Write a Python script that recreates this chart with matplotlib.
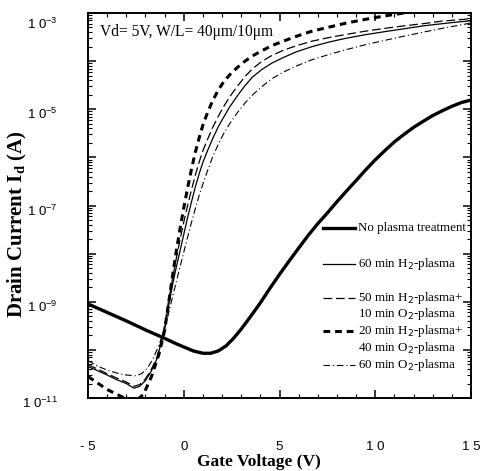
import matplotlib
matplotlib.use("Agg")
import matplotlib.pyplot as plt
from matplotlib.lines import Line2D
from matplotlib.ticker import FixedLocator, FixedFormatter, LogLocator, NullFormatter, MultipleLocator
import matplotlib.transforms as mtrans

# ---- data ----
v_none = [-5, -4, -3, -2, -1, -0.5, 0, 0.5, 1.0, 1.4, 1.8, 2.2, 2.6, 3.0, 3.5, 4.0, 4.5, 5.0, 5.5, 6.0, 6.5,
          7.0, 7.5, 8.0, 8.5, 9.0, 9.5, 10.0, 10.5, 11.0, 11.5, 12.0, 12.5, 13.0, 13.5, 14.0, 14.5, 15]
i_none = [9e-10, 6e-10, 4e-10, 2.6e-10, 1.74e-10, 1.4e-10, 1.15e-10, 9.5e-11, 8.5e-11, 8.5e-11, 9.5e-11,
          1.2e-10, 1.74e-10, 2.7e-10, 5e-10, 9.5e-10, 1.9e-9, 3.7e-9, 7e-9, 1.3e-8, 2.4e-8,
          4.2e-8, 7e-8, 1.2e-7, 2e-7, 3.3e-7, 5.5e-7, 8.9e-7, 1.38e-6, 2.1e-6, 3e-6, 4.2e-6, 5.6e-6,
          7.4e-6, 9.3e-6, 1.15e-5, 1.38e-5, 1.55e-5]

v_h2 = [-5, -4.5, -4, -3.5, -3, -2.6, -2.3, -2.0, -1.7, -1.4, -1.2, -1.0, -0.8, -0.6, -0.4, -0.2, 0, 0.2,
        0.4, 0.6, 0.8, 1.0, 1.25, 1.5, 1.8, 2.1, 2.4, 2.8, 3.2, 3.6, 4.1, 4.6, 5.2, 5.9, 6.7, 7.6, 8.5,
        9.5, 10.5, 11.5, 12.5, 13.5, 14.3, 15]
i_h2 = [4.5e-11, 3.7e-11, 3e-11, 2.4e-11, 2e-11, 1.6e-11, 1.75e-11, 2.3e-11, 3.6e-11, 6.5e-11, 1.3e-10,
        2.8e-10, 7.9e-10, 2.1e-9, 5e-9, 1.12e-8, 2.5e-8, 5.6e-8, 1.17e-7, 2.4e-7, 4.5e-7, 7.9e-7,
        1.4e-6, 2.4e-6, 4.3e-6, 7e-6, 1.12e-5, 1.9e-5, 3.1e-5, 4.7e-5, 6.8e-5, 9.1e-5, 1.19e-4,
        1.57e-4, 2e-4, 2.5e-4, 3e-4, 3.55e-4, 4.1e-4, 4.7e-4, 5.4e-4, 6e-4, 6.5e-4, 6.9e-4]

v_h2o2a = [-5, -4.5, -4, -3.5, -3, -2.6, -2.3, -2.0, -1.7, -1.4, -1.2, -1.0, -0.8, -0.6, -0.4, -0.2, 0,
           0.2, 0.4, 0.6, 0.8, 1.0, 1.25, 1.5, 1.8, 2.1, 2.4, 2.8, 3.2, 3.6, 4.1, 4.6, 5.2, 5.9, 6.7,
           7.6, 8.5, 9.5, 10.5, 11.5, 12.5, 13.5, 14.3, 15]
i_h2o2a = [4.9e-11, 4e-11, 3.2e-11, 2.6e-11, 2.15e-11, 1.75e-11, 1.9e-11, 2.5e-11, 3.9e-11, 7e-11,
           1.4e-10, 3.2e-10, 1e-9, 2.8e-9, 7.6e-9, 1.9e-8, 4.5e-8, 1e-7, 2.1e-7, 4.2e-7, 7.9e-7,
           1.38e-6, 2.4e-6, 4.1e-6, 7.1e-6, 1.16e-5, 1.82e-5, 3e-5, 4.8e-5, 7e-5, 1e-4, 1.31e-4,
           1.68e-4, 2.1e-4, 2.6e-4, 3.1e-4, 3.6e-4, 4.2e-4, 4.8e-4, 5.4e-4, 6e-4, 6.8e-4, 7.2e-4, 7.6e-4]

v_h2o2b = [-5, -4, -3.1, -2.6, -2.1, -1.7, -1.3, -1.0, -0.8, -0.6, -0.4, -0.2, 0, 0.2, 0.4, 0.6, 0.8,
           1.0, 1.25, 1.5, 1.8, 2.1, 2.4, 2.8, 3.2, 3.6, 4.1, 4.6, 5.2, 5.9, 6.7, 7.6, 8.5, 9.5, 10.5,
           11.5, 12.5, 13.5, 15]
i_h2o2b = [2.8e-11, 1.5e-11, 1e-11, 8e-12, 1.2e-11, 2.7e-11, 8e-11, 2.5e-10, 8.9e-10, 3.2e-9, 1.05e-8,
           3.2e-8, 8.9e-8, 2.3e-7, 5.6e-7, 1.26e-6, 2.5e-6, 4.7e-6, 8.7e-6, 1.48e-5, 2.5e-5, 3.8e-5,
           5.2e-5, 7.4e-5, 1e-4, 1.29e-4, 1.66e-4, 2.1e-4, 2.6e-4, 3.3e-4, 4.2e-4, 5.1e-4, 6.2e-4,
           7.4e-4, 8.7e-4, 1e-3, 1.12e-3, 1.23e-3, 1.38e-3]

v_o2 = [-5, -4.5, -4, -3.5, -3, -2.5, -2.2, -1.9, -1.6, -1.3, -1.0, -0.8, -0.6, -0.4, -0.2, 0, 0.2, 0.4,
        0.6, 0.8, 1.0, 1.25, 1.5, 1.8, 2.1, 2.4, 2.8, 3.2, 3.6, 4.1, 4.6, 5.2, 5.9, 6.7, 7.6, 8.5, 9.5,
        10.5, 11.5, 12.5, 13.5, 14.3, 15]
i_o2 = [6e-11, 4.6e-11, 3.8e-11, 3.3e-11, 3e-11, 2.9e-11, 3.2e-11, 4.2e-11, 6.5e-11, 1.25e-10, 2.7e-10,
        5.6e-10, 1.2e-9, 2.5e-9, 5.2e-9, 1.07e-8, 2.2e-8, 4.4e-8, 8.5e-8, 1.6e-7, 2.8e-7, 5.4e-7, 1e-6,
        1.86e-6, 3.2e-6, 5e-6, 8.5e-6, 1.35e-5, 2e-5, 3e-5, 4.3e-5, 5.9e-5, 8e-5, 1.07e-4,
        1.38e-4, 1.74e-4, 2.2e-4, 2.7e-4, 3.3e-4, 4e-4, 4.8e-4, 5.5e-4, 6.2e-4]

xticks = [-5, 0, 5, 10, 15]
xticklabels = ["- 5", "0", "5", "1 0", "1 5"]
yticks = [1e-11, 1e-10, 1e-9, 1e-8, 1e-7, 1e-6, 1e-5, 1e-4, 1e-3]
yticklabels = ["1 0$^{\\mathregular{-11}}$", "", "1 0$^{\\mathregular{-9}}$", "", "1 0$^{\\mathregular{-7}}$", "",
               "1 0$^{\\mathregular{-5}}$", "", "1 0$^{\\mathregular{-3}}$"]

labels = ["No plasma treatment", "60 min H$_2$-plasma", "50 min H$_2$-plasma+",
          "10 min O$_2$-plasma", "20 min H$_2$-plasma+", "40 min O$_2$-plasma", "60 min O$_2$-plasma"]

# ---- styles ----
st_none = dict(color="black", lw=2.4, ls="-")
st_h2 = dict(color="black", lw=0.9, ls="-")
st_a = dict(color="black", lw=0.9, ls=(0, (7, 3)))
st_b = dict(color="black", lw=2.2, ls=(0, (2.2, 1.6)))
st_o2 = dict(color="black", lw=0.8, ls=(0, (6, 2.5, 1, 2.5)))

fig = plt.figure(figsize=(4.82, 4.71), dpi=100)
ax = fig.add_axes([88/482, 73/471, 383/482, 385/471])

ax.plot(v_none, i_none, **st_none)
ax.plot(v_h2, i_h2, **st_h2)
ax.plot(v_h2o2a, i_h2o2a, **st_a)
ax.plot(v_h2o2b, i_h2o2b, **st_b)
ax.plot(v_o2, i_o2, **st_o2)

ax.set_yscale("log")
ax.set_xlim(-5, 15)
ax.set_ylim(1e-11, 1e-3)

ax.xaxis.set_major_locator(FixedLocator(xticks))
ax.xaxis.set_major_formatter(FixedFormatter(xticklabels))
ax.xaxis.set_minor_locator(MultipleLocator(1))
ax.yaxis.set_major_locator(FixedLocator(yticks))
ax.yaxis.set_major_formatter(FixedFormatter(yticklabels))
ax.yaxis.set_minor_locator(LogLocator(base=10, subs=range(2, 10), numticks=20))
ax.yaxis.set_minor_formatter(NullFormatter())

for s in ax.spines.values():
    s.set_linewidth(1.4)

ax.tick_params(axis="both", which="major", direction="in", length=6, width=1.1,
               top=True, right=True, labelsize=9.5)
ax.tick_params(axis="both", which="minor", direction="in", length=3, width=0.8,
               top=True, right=True)
ax.tick_params(axis="x", which="major", pad=31)
ax.tick_params(axis="y", which="major", pad=22)
for lab in ax.get_xticklabels() + ax.get_yticklabels():
    lab.set_fontfamily("Liberation Sans")
ylabs = ax.get_yticklabels()
for k, lab in enumerate(ylabs):
    dy = -10 if k == len(ylabs) - 1 else -4
    lab.set_transform(lab.get_transform() + mtrans.ScaledTranslation(0, dy / 100, fig.dpi_scale_trans))

ax.set_xlabel("Gate Voltage (V)", family="Liberation Serif", weight="bold", fontsize=12.5)
ax.xaxis.set_label_coords((259 - 88) / 383, (398 - 462) / 385)
ax.xaxis.label.set_va("center")
ax.set_ylabel("Drain Current I$_\\mathregular{d}$ (A)", family="Liberation Serif", weight="bold",
              fontsize=15)
ax.yaxis.set_label_coords((17 - 88) / 383, (398 - 224) / 385)
ax.yaxis.label.set_va("center")

ax.text((100 - 88) / 383, (398 - 32) / 385, "Vd= 5V, W/L= 40μm/10μm", transform=ax.transAxes,
        family="Liberation Serif", fontsize=11.2, va="center", ha="left")

# ---- legend drawn in axes coordinates ----
def ax_xy(px, py):
    return ((px - 88) / 383, (398 - py) / 385)

entries = [(228, labels[0], st_none), (264, labels[1], st_h2), (298, labels[2], st_a),
           (314, labels[3], None), (331, labels[4], st_b), (348, labels[5], None),
           (365, labels[6], st_o2)]
for py, lab, st in entries:
    x0, y0 = ax_xy(323, py)
    x1, _ = ax_xy(355, py)
    xt, _ = ax_xy(358, py)
    if st is not None:
        ax.add_line(Line2D([x0, x1], [y0, y0], transform=ax.transAxes, **st))
    ax.text(xt, y0, lab, transform=ax.transAxes, family="Liberation Serif", fontsize=9.4,
            va="center", ha="left")

fig.savefig("out.png", dpi=100)
